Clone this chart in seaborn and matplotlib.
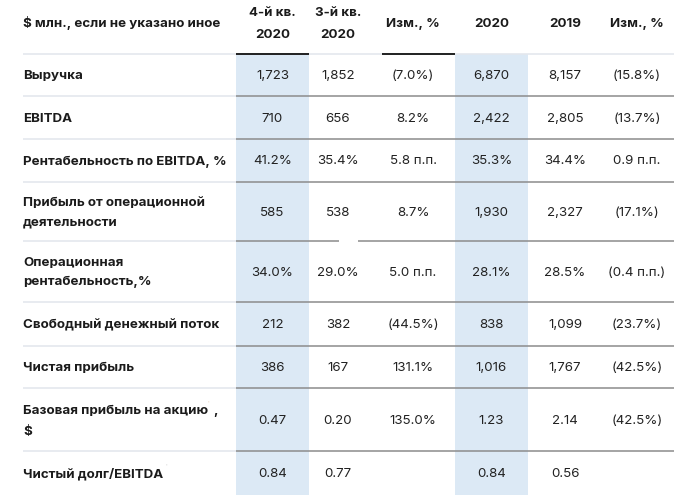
import matplotlib
matplotlib.use("Agg")
import matplotlib.pyplot as plt
import seaborn as sns
import pandas as pd

# ---- data ----
header_label = "$ млн., если не указано иное"
col_headers = ["4-й кв.\n2020", "3-й кв.\n2020", "Изм., %", "2020", "2019", "Изм., %"]
row_labels = [
    "Выручка",
    "EBITDA",
    "Рентабельность по EBITDA, %",
    "Прибыль от операционной\nдеятельности",
    "Операционная\nрентабельность,%",
    "Свободный денежный поток",
    "Чистая прибыль",
    "",  # drawn in parts below (with footnote mark)
    "Чистый долг/EBITDA",
]
eps_label_parts = ["Базовая прибыль на акцию", ",", "$"]
q4_2020 = ["1,723", "710", "41.2%", "585", "34.0%", "212", "386", "0.47", "0.84"]
q3_2020 = ["1,852", "656", "35.4%", "538", "29.0%", "382", "167", "0.20", "0.77"]
chg_q = ["(7.0%)", "8.2%", "5.8 п.п.", "8.7%", "5.0 п.п.", "(44.5%)", "131.1%", "135.0%", ""]
y2020 = ["6,870", "2,422", "35.3%", "1,930", "28.1%", "838", "1,016", "1.23", "0.84"]
y2019 = ["8,157", "2,805", "34.4%", "2,327", "28.5%", "1,099", "1,767", "2.14", "0.56"]
chg_y = ["(15.8%)", "(13.7%)", "0.9 п.п.", "(17.1%)", "(0.4 п.п.)", "(23.7%)", "(42.5%)", "(42.5%)", ""]
highlight = [True, False, False, True, False, False]

table = pd.DataFrame({h: v for h, v in zip(range(6), [q4_2020, q3_2020, chg_q, y2020, y2019, chg_y])})

# ---- layout ----
sns.set_theme(style="white")
plt.rcParams["font.family"] = ["Inter", "DejaVu Sans"]

W, H = 697, 495
fig = plt.figure(figsize=(W / 100, H / 100), dpi=100)
ax = fig.add_axes([0, 0, 1, 1])
ax.set_xlim(0, W)
ax.set_ylim(H, 0)
ax.axis("off")

col_edges = [(236, 309), (309, 368), (368, 455), (455, 528), (528, 600), (600, 674)]
col_centers = [272.5, 338, 413, 491.5, 565, 637]
row_bounds = [54, 96, 139, 182, 241, 302, 346, 388, 451, 495]
label_x = 23
blue = "#dce9f5"
light = "#e4e7ed"
dark = "#8c8c8c"
txt = "#1b1b1b"
fs = 9.6

for i, hl in enumerate(highlight):
    if hl:
        ax.axvspan(col_edges[i][0], col_edges[i][1], ymin=0, ymax=1 - 54 / H, color=blue, lw=0, zorder=0)

# header
ax.text(label_x, 23, header_label, ha="left", va="center", fontsize=fs, fontweight="bold", color=txt)
for i, h in enumerate(col_headers):
    ax.text(col_centers[i], 24, h, ha="center", va="center", fontsize=fs, fontweight="bold",
            color=txt, linespacing=2.0)

# header separator
ax.hlines(54, label_x, 674, color=light, lw=1.2, zorder=1)
ax.hlines(54, 236, 309, color="#111111", lw=1.3, zorder=2)
ax.hlines(54, 382, 455, color="#111111", lw=1.3, zorder=2)

# row separators
for y in row_bounds[1:-1]:
    ax.hlines(y, label_x, 236, color=light, lw=1.2, zorder=1)
    if y == 241:
        ax.hlines(y, 236, 339, color=dark, lw=1.1, zorder=1)
        ax.hlines(y, 358, 674, color=dark, lw=1.1, zorder=1)
    else:
        ax.hlines(y, 236, 674, color=dark, lw=1.1, zorder=1)

# rows
for r, lab in enumerate(row_labels):
    yc = (row_bounds[r] + row_bounds[r + 1]) / 2 + 1
    if lab:
        ax.text(label_x, yc, lab, ha="left", va="center", fontsize=fs, fontweight="bold",
                color=txt, linespacing=1.8)
    for c in range(6):
        ax.text(col_centers[c], yc, table.iloc[r, c], ha="center", va="center",
                fontsize=fs, color="#222222")

# EPS label in parts, with faint footnote mark
ax.text(label_x, 411, eps_label_parts[0], ha="left", va="center", fontsize=fs, fontweight="bold", color=txt)
ax.text(213, 411, eps_label_parts[1], ha="left", va="center", fontsize=fs, fontweight="bold", color=txt)
ax.text(label_x, 432, eps_label_parts[2], ha="left", va="center", fontsize=fs, fontweight="bold", color=txt)
ax.text(208.5, 403, "'", fontsize=4, color="#e8c8a8", ha="center", va="center")
ax.text(166, 466, "'", fontsize=4, color="#c8c8c8", ha="center", va="center")

fig.savefig("out.png", dpi=100, facecolor="white")
